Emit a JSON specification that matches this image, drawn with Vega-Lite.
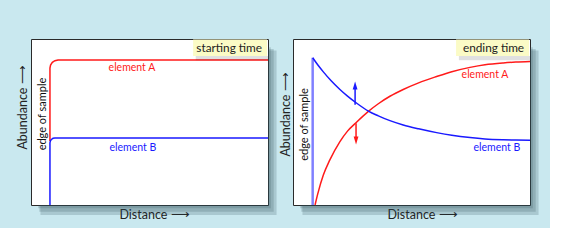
{
  "$schema": "https://vega.github.io/schema/vega-lite/v6.json",
  "background": "#c9e8ef",
  "padding": {"left": 15, "top": 38, "right": 10, "bottom": 7},
  "spacing": 25,
  "bounds": "flush",
  "config": {
    "view": {"stroke": "#2a2a2a", "strokeWidth": 1, "fill": "white"},
    "axis": {"domain": false, "ticks": false, "labels": false, "grid": false, "titleFont": "Lato", "titleFontSize": 12.5, "titleFontWeight": "normal", "titleColor": "#222"},
    "text": {"font": "Lato"}
  },
  "datasets": {
    "shadow": [
      {"x": 100, "x2": 101.2, "y": -2, "y2": 95},
      {"x": 100, "x2": 102.4, "y": -4, "y2": 94},
      {"x": 100, "x2": 103.6, "y": -6, "y2": 93},
      {"x": 3, "x2": 100, "y": -2, "y2": 0},
      {"x": 3.5, "x2": 100, "y": -4, "y2": 0},
      {"x": 4, "x2": 100, "y": -6, "y2": 0}
    ],
    "leftLines": [
      {"series": "A", "i": 1, "x": 8, "y": 38.6},
      {"series": "A", "i": 2, "x": 8, "y": 82.5},
      {"series": "A", "i": 3, "x": 8.26, "y": 84.34},
      {"series": "A", "i": 4, "x": 9.0, "y": 85.9},
      {"series": "A", "i": 5, "x": 10.1, "y": 86.93},
      {"series": "A", "i": 6, "x": 11.4, "y": 87.3},
      {"series": "A", "i": 7, "x": 100, "y": 87.3},
      {"series": "B", "i": 1, "x": 8, "y": 0},
      {"series": "B", "i": 2, "x": 8, "y": 37.4},
      {"series": "B", "i": 3, "x": 8.16, "y": 38.55},
      {"series": "B", "i": 4, "x": 8.6, "y": 39.5},
      {"series": "B", "i": 5, "x": 9.3, "y": 40.2},
      {"series": "B", "i": 6, "x": 10.1, "y": 40.4},
      {"series": "B", "i": 7, "x": 100, "y": 40.4}
    ],
    "rightLines": [
      {"series": "A", "x": 9.3, "y": 0},
      {"series": "A", "x": 10.5, "y": 7},
      {"series": "A", "x": 12.8, "y": 18},
      {"series": "A", "x": 15.5, "y": 27},
      {"series": "A", "x": 19.8, "y": 38.2},
      {"series": "A", "x": 23, "y": 44.5},
      {"series": "A", "x": 26.9, "y": 50.0},
      {"series": "A", "x": 31.8, "y": 56.4},
      {"series": "A", "x": 36, "y": 61.0},
      {"series": "A", "x": 40.9, "y": 65.5},
      {"series": "A", "x": 46.5, "y": 69.6},
      {"series": "A", "x": 53, "y": 73.6},
      {"series": "A", "x": 60.6, "y": 77.4},
      {"series": "A", "x": 67, "y": 80.3},
      {"series": "A", "x": 74.7, "y": 82.9},
      {"series": "A", "x": 81, "y": 84.5},
      {"series": "A", "x": 88.7, "y": 85.6},
      {"series": "A", "x": 94, "y": 86.1},
      {"series": "A", "x": 100, "y": 86.5},
      {"series": "B", "x": 8.3, "y": 88.7},
      {"series": "B", "x": 10.5, "y": 84.3},
      {"series": "B", "x": 12.8, "y": 80.2},
      {"series": "B", "x": 16, "y": 75.0},
      {"series": "B", "x": 19.8, "y": 69.6},
      {"series": "B", "x": 23, "y": 65.6},
      {"series": "B", "x": 26.9, "y": 61.3},
      {"series": "B", "x": 31.8, "y": 56.6},
      {"series": "B", "x": 36, "y": 53.7},
      {"series": "B", "x": 40.9, "y": 50.8},
      {"series": "B", "x": 46.5, "y": 48.2},
      {"series": "B", "x": 53, "y": 45.9},
      {"series": "B", "x": 60.6, "y": 43.6},
      {"series": "B", "x": 67, "y": 42.0},
      {"series": "B", "x": 74.7, "y": 40.6},
      {"series": "B", "x": 81, "y": 39.8},
      {"series": "B", "x": 88.7, "y": 39.3},
      {"series": "B", "x": 94, "y": 39.1},
      {"series": "B", "x": 100, "y": 39.0}
    ],
    "rightEdge": [{"x": 8.3, "y": 0, "y2": 88.7}],
    "shafts": [
      {"series": "B", "x": 26.2, "y": 60.4, "y2": 70.5},
      {"series": "A", "x": 26.6, "y": 49.3, "y2": 40.5}
    ],
    "heads": [
      {"series": "B", "dir": "up", "x": 26.2, "y": 72},
      {"series": "A", "dir": "down", "x": 26.6, "y": 38.8}
    ],
    "leftLabels": [
      {"series": "A", "x": 42.6, "y": 82.3, "text": "element A"},
      {"series": "B", "x": 43, "y": 34.3, "text": "element B"}
    ],
    "rightLabels": [
      {"series": "A", "x": 81, "y": 78.6, "text": "element A"},
      {"series": "B", "x": 86, "y": 34.1, "text": "element B"}
    ],
    "leftEdgeText": [{"x": 5.1, "y": 54.8, "text": "edge of sample"}],
    "rightEdgeText": [{"x": 5.1, "y": 48.5, "text": "edge of sample"}],
    "leftBox": [{"x": 68.4, "x2": 99.6, "y": 89.8, "y2": 99.7, "sx": 69.5, "sx2": 100, "sy": 87.2, "sy2": 89.8, "tx": 83.6, "ty": 94.6, "text": "starting time"}],
    "rightBox": [{"x": 68.8, "x2": 99.6, "y": 89.8, "y2": 99.7, "sx": 70, "sx2": 100, "sy": 87.2, "sy2": 89.8, "tx": 84.6, "ty": 94.6, "text": "ending time"}]
  },
  "hconcat": [
    {
      "width": 237,
      "height": 166,
      "encoding": {
        "x": {"field": "x", "type": "quantitative", "scale": {"domain": [0, 100], "nice": false, "zero": false}, "axis": {"title": "Distance ⟶", "titleX": 123, "titlePadding": 3}},
        "y": {"field": "y", "type": "quantitative", "scale": {"domain": [0, 100], "nice": false, "zero": false}, "axis": {"title": "Abundance ⟶", "titleY": 68, "titlePadding": 2}}
      },
      "layer": [
        {
          "data": {"name": "shadow"},
          "mark": {"type": "rect", "color": "#2c4a55", "opacity": 0.2},
          "encoding": {"x2": {"field": "x2"}, "y2": {"field": "y2"}}
        },
        {
          "data": {"name": "leftLines"},
          "mark": {"type": "line", "strokeWidth": 1.5},
          "encoding": {
            "color": {"field": "series", "type": "nominal", "scale": {"domain": ["A", "B"], "range": ["#ff1a1a", "#1a1aff"]}, "legend": null},
            "order": {"field": "i", "type": "quantitative"}
          }
        },
        {
          "data": {"name": "leftLabels"},
          "mark": {"type": "text", "fontSize": 10.5},
          "encoding": {
            "text": {"field": "text"},
            "color": {"field": "series", "type": "nominal", "scale": {"domain": ["A", "B"], "range": ["#ff1a1a", "#1a1aff"]}, "legend": null}
          }
        },
        {
          "data": {"name": "leftEdgeText"},
          "mark": {"type": "text", "fontSize": 11, "angle": 270, "color": "#111"},
          "encoding": {"text": {"field": "text"}}
        },
        {
          "data": {"name": "leftBox"},
          "mark": {"type": "rect", "color": "#000", "opacity": 0.12},
          "encoding": {"x": {"field": "sx", "type": "quantitative"}, "x2": {"field": "sx2"}, "y": {"field": "sy", "type": "quantitative"}, "y2": {"field": "sy2"}}
        },
        {
          "data": {"name": "leftBox"},
          "mark": {"type": "rect", "color": "#fbfbc6"},
          "encoding": {"x": {"field": "x", "type": "quantitative"}, "x2": {"field": "x2"}, "y": {"field": "y", "type": "quantitative"}, "y2": {"field": "y2"}}
        },
        {
          "data": {"name": "leftBox"},
          "mark": {"type": "text", "fontSize": 11.8, "color": "#222"},
          "encoding": {"x": {"field": "tx", "type": "quantitative"}, "y": {"field": "ty", "type": "quantitative"}, "text": {"field": "text"}}
        }
      ]
    },
    {
      "width": 237,
      "height": 166,
      "encoding": {
        "x": {"field": "x", "type": "quantitative", "scale": {"domain": [0, 100], "nice": false, "zero": false}, "axis": {"title": "Distance ⟶", "titleX": 129, "titlePadding": 3}},
        "y": {"field": "y", "type": "quantitative", "scale": {"domain": [0, 100], "nice": false, "zero": false}, "axis": {"title": "Abundance ⟶", "titleY": 75, "titlePadding": 1}}
      },
      "layer": [
        {
          "data": {"name": "shadow"},
          "mark": {"type": "rect", "color": "#2c4a55", "opacity": 0.2},
          "encoding": {"x2": {"field": "x2"}, "y2": {"field": "y2"}}
        },
        {
          "data": {"name": "rightEdge"},
          "mark": {"type": "rule", "strokeWidth": 2.5, "color": "#8080ff"},
          "encoding": {"y2": {"field": "y2"}}
        },
        {
          "data": {"name": "rightLines"},
          "mark": {"type": "line", "strokeWidth": 1.5, "interpolate": "monotone"},
          "encoding": {
            "color": {"field": "series", "type": "nominal", "scale": {"domain": ["A", "B"], "range": ["#ff1a1a", "#1a1aff"]}, "legend": null}
          }
        },
        {
          "data": {"name": "shafts"},
          "mark": {"type": "rule", "strokeWidth": 1.5},
          "encoding": {
            "y2": {"field": "y2"},
            "color": {"field": "series", "type": "nominal", "scale": {"domain": ["A", "B"], "range": ["#ff7f7f", "#7f7fff"]}, "legend": null}
          }
        },
        {
          "data": {"name": "heads"},
          "mark": {"type": "point", "filled": true, "opacity": 1, "size": 64},
          "encoding": {
            "shape": {"field": "dir", "type": "nominal", "scale": {"domain": ["up", "down"], "range": ["M0,-1L0.6,1L-0.6,1Z", "M0,1L0.6,-1L-0.6,-1Z"]}, "legend": null},
            "color": {"field": "series", "type": "nominal", "scale": {"domain": ["A", "B"], "range": ["#ff1a1a", "#1a1aff"]}, "legend": null}
          }
        },
        {
          "data": {"name": "rightLabels"},
          "mark": {"type": "text", "fontSize": 10.5},
          "encoding": {
            "text": {"field": "text"},
            "color": {"field": "series", "type": "nominal", "scale": {"domain": ["A", "B"], "range": ["#ff1a1a", "#1a1aff"]}, "legend": null}
          }
        },
        {
          "data": {"name": "rightEdgeText"},
          "mark": {"type": "text", "fontSize": 11, "angle": 270, "color": "#111"},
          "encoding": {"text": {"field": "text"}}
        },
        {
          "data": {"name": "rightBox"},
          "mark": {"type": "rect", "color": "#000", "opacity": 0.12},
          "encoding": {"x": {"field": "sx", "type": "quantitative"}, "x2": {"field": "sx2"}, "y": {"field": "sy", "type": "quantitative"}, "y2": {"field": "sy2"}}
        },
        {
          "data": {"name": "rightBox"},
          "mark": {"type": "rect", "color": "#fbfbc6"},
          "encoding": {"x": {"field": "x", "type": "quantitative"}, "x2": {"field": "x2"}, "y": {"field": "y", "type": "quantitative"}, "y2": {"field": "y2"}}
        },
        {
          "data": {"name": "rightBox"},
          "mark": {"type": "text", "fontSize": 11.8, "color": "#222"},
          "encoding": {"x": {"field": "tx", "type": "quantitative"}, "y": {"field": "ty", "type": "quantitative"}, "text": {"field": "text"}}
        }
      ]
    }
  ]
}
